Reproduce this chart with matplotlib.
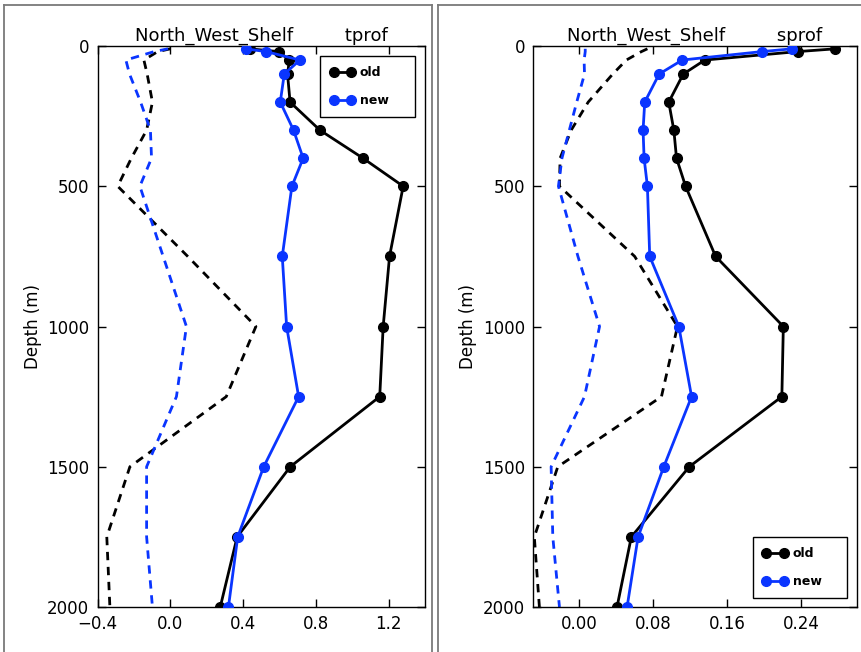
import matplotlib
matplotlib.use("Agg")
import matplotlib.pyplot as plt
from matplotlib.lines import Line2D

# ---------------- data ----------------
depths = [10, 20, 50, 100, 200, 300, 400, 500, 750, 1000, 1250, 1500, 1750, 2000]

t_old = [0.435, 0.595, 0.654, 0.644, 0.658, 0.822, 1.059, 1.280, 1.205, 1.170, 1.151, 0.659, 0.367, 0.274]
t_new = [0.413, 0.526, 0.712, 0.626, 0.604, 0.677, 0.730, 0.668, 0.615, 0.639, 0.705, 0.513, 0.370, 0.319]
t_old_dash = [0.0, -0.07, -0.146, -0.128, -0.099, -0.131, -0.215, -0.29, 0.095, 0.47, 0.307, -0.223, -0.35, -0.333]
t_new_dash = [-0.013, -0.09, -0.245, -0.225, -0.164, -0.11, -0.104, -0.168, -0.04, 0.088, 0.033, -0.131, -0.131, -0.099]

s_old = [0.2769, 0.2360, 0.1357, 0.1123, 0.0966, 0.1021, 0.1050, 0.1148, 0.1473, 0.2206, 0.2190, 0.1188, 0.0561, 0.0406]
s_new = [0.2299, 0.1973, 0.1112, 0.0862, 0.0706, 0.0688, 0.0699, 0.0735, 0.0760, 0.1075, 0.1213, 0.0912, 0.0634, 0.0515]
s_old_dash = [0.0735, 0.067, 0.0507, 0.036, 0.0094, -0.009, -0.021, -0.0217, 0.0597, 0.106, 0.0887, -0.0235, -0.0489, -0.0434]
s_new_dash = [0.0062, 0.0062, 0.005, 0.0054, -0.003, -0.011, -0.019, -0.0228, -0.0017, 0.0217, 0.0054, -0.0307, -0.0289, -0.0217]

t_xticks = [-0.4, 0.0, 0.4, 0.8, 1.2]
s_xticks = [0.00, 0.08, 0.16, 0.24]
y_ticks = [0, 500, 1000, 1500, 2000]
series_labels = ["old", "new"]
region = "North_West_Shelf"
var_names = ["tprof", "sprof"]

# ---------------- style ----------------
plt.rcParams['font.family'] = ['DejaVu Sans']
BLACK = "#000000"
BLUE = "#0a35ff"

W, H = 862, 652
fig = plt.figure(figsize=(W / 100, H / 100), dpi=100)
fig.patch.set_facecolor("white")

def fx(px):
    return px / W

def fy(py):
    return 1 - py / H

# panel frames (decorative)
frame_kw = dict(color="#7a7a7a", lw=1.3, transform=fig.transFigure)
fig.add_artist(Line2D([fx(4.5), fx(4.5)], [fy(4.5), fy(H + 5)], **frame_kw))
fig.add_artist(Line2D([fx(4.5), fx(431.5)], [fy(4.5), fy(4.5)], **frame_kw))
fig.add_artist(Line2D([fx(431.5), fx(431.5)], [fy(4.5), fy(H + 5)], **frame_kw))
fig.add_artist(Line2D([fx(438.5), fx(438.5)], [fy(4.5), fy(H + 5)], **frame_kw))
fig.add_artist(Line2D([fx(438.5), fx(W + 5)], [fy(4.5), fy(4.5)], **frame_kw))

axL = fig.add_axes([fx(97.7), fy(607), fx(425) - fx(97.7), fy(46) - fy(607)])
axR = fig.add_axes([fx(533.3), fy(607), fx(856.7) - fx(533.3), fy(46) - fy(607)])

panels = [
    (axL, t_old, t_new, t_old_dash, t_new_dash, (-0.4, 1.4), t_xticks, var_names[0],
     "upper left", (0.679, 0.873, 0.290, 0.109)),
    (axR, s_old, s_new, s_old_dash, s_new_dash, (-0.05, 0.30), s_xticks, var_names[1],
     "lower left", (0.678, 0.0155, 0.292, 0.110)),
]

for ax, old, new, old_d, new_d, xlim, xticks, vname, loc, bbox in panels:
    ax.plot(old, depths, color=BLACK, lw=2.0, marker="o", ms=7, label=series_labels[0], zorder=3)
    ax.plot(new, depths, color=BLUE, lw=2.0, marker="o", ms=7, mec=BLUE, label=series_labels[1], zorder=4)
    ax.plot(old_d, depths, color=BLACK, lw=2.0, ls=(0, (3, 2.4)), zorder=2)
    ax.plot(new_d, depths, color=BLUE, lw=2.0, ls=(0, (3, 2.4)), zorder=2)
    ax.set_xlim(*xlim)
    ax.set_ylim(2000, 0)
    ax.set_xticks(xticks)
    ax.set_yticks(y_ticks)
    ax.tick_params(direction="in", top=True, right=True, length=6, width=1,
                   labelsize=12, pad=6, colors="black")
    for sp in ax.spines.values():
        sp.set_linewidth(1.0)
        sp.set_color("black")
    ax.set_ylabel("Depth (m)", fontsize=12)
    ax.set_title(region + " " * 9 + vname, fontsize=13, pad=4)
    leg = ax.legend(loc=loc, bbox_to_anchor=bbox, mode="expand", numpoints=2,
                    prop={"size": 9, "weight": "bold"},
                    fancybox=False, framealpha=1, edgecolor="black",
                    borderpad=0.8, labelspacing=1.2, handlelength=2.0,
                    handletextpad=0.4, borderaxespad=0.0)
    leg.get_frame().set_linewidth(1.0)

fig.savefig("out.png", dpi=100)
